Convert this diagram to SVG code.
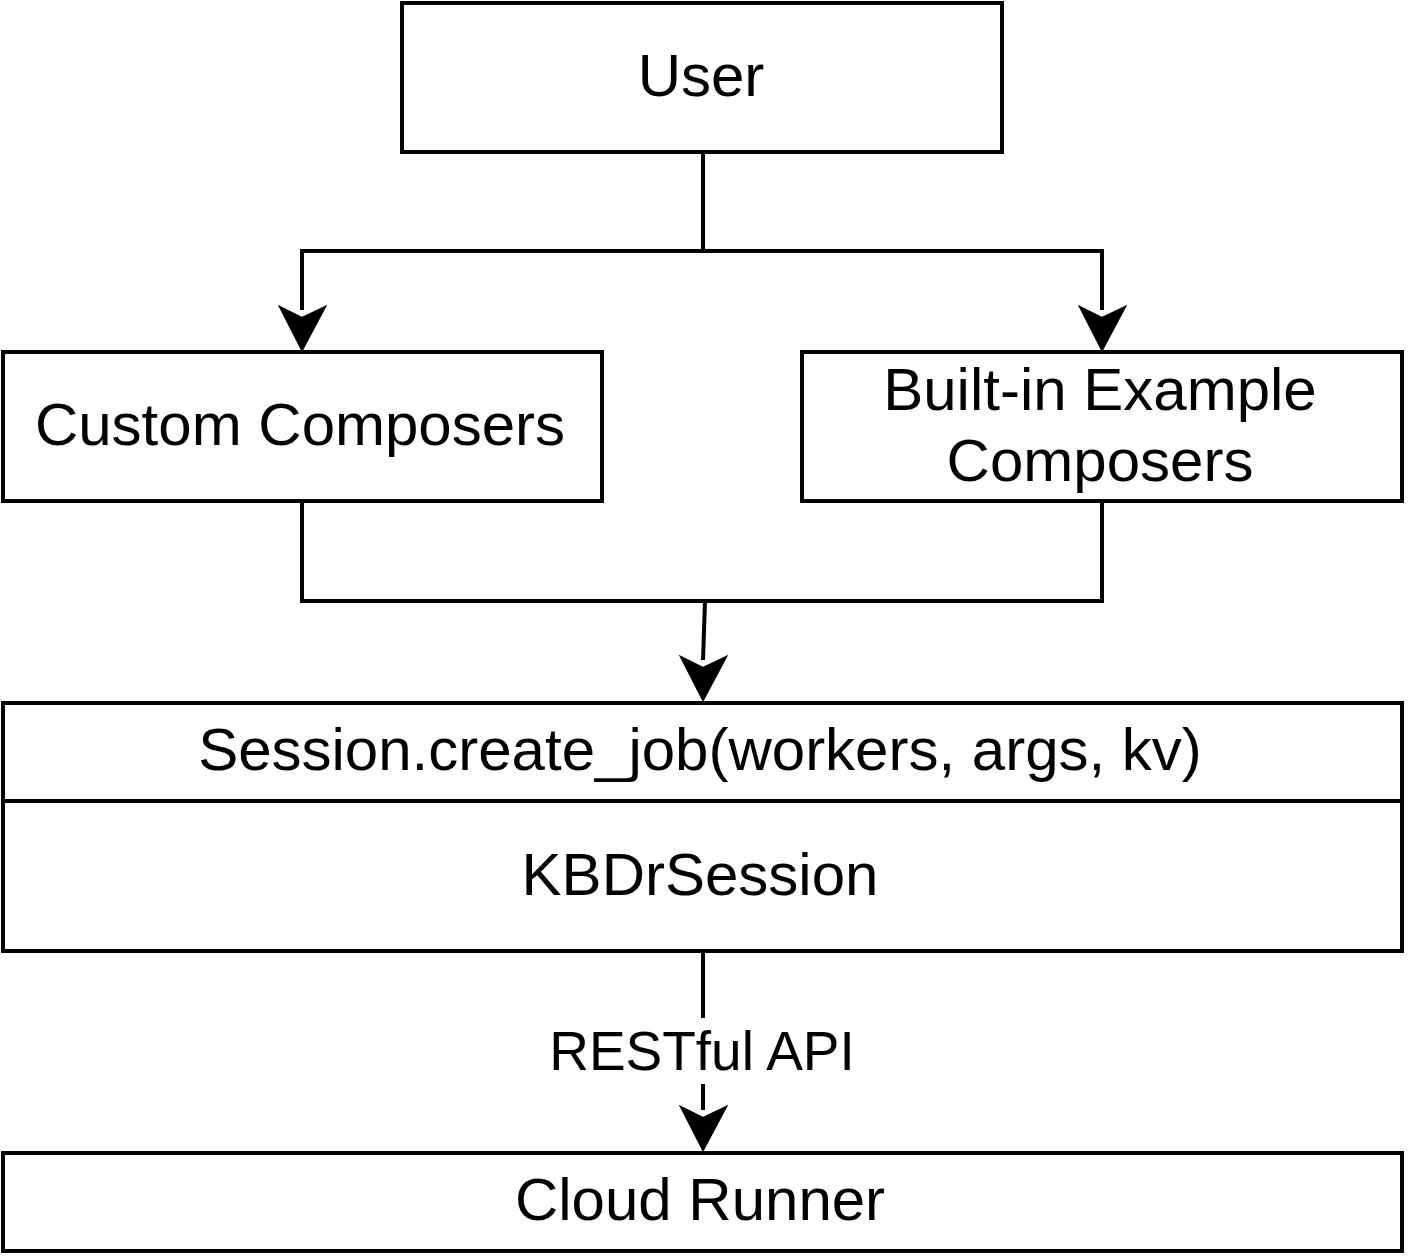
<svg xmlns="http://www.w3.org/2000/svg" width="1410" height="1260" viewBox="0 0 1410 1260">
<style>
.box{fill:#fff;stroke:#000;stroke-width:4}
.t{font-family:"Liberation Sans",Arial,sans-serif;font-size:60px;fill:#000;text-anchor:middle}
.lbl{font-family:"Liberation Sans",Arial,sans-serif;font-size:55px;fill:#000;text-anchor:middle}
.c{fill:none;stroke:#000;stroke-width:4}
.ah{fill:#000;stroke:#000;stroke-width:2}
</style>
<rect width="1410" height="1260" fill="#fff"/>
<g id="connectors">
<path class="c" d="M703 152 V251 H302 V310"/>
<path class="c" d="M703 251 H1102 V310"/>
<path class="ah" d="M302 350 L280 307 L302 318 L325 307 Z"/>
<path class="ah" d="M1102 350 L1080 307 L1102 318 L1125 307 Z"/>
<path class="c" d="M302 501 V601 H1102 V501"/>
<path class="c" d="M705 601 L703 660"/>
<path class="ah" d="M703 700 L681 657 L703 668 L726 657 Z"/>
<path class="c" d="M703 951 V1110"/>
<path class="ah" d="M703 1150 L681 1107 L703 1118 L726 1107 Z"/>
<rect x="548" y="1018" width="308" height="66" fill="#fff"/>
<text class="lbl" x="702" y="1070">RESTful API</text>
</g>
<g id="user">
<rect class="box" x="402" y="3" width="600" height="149"/>
<text class="t" x="701" y="96">User</text>
</g>
<g id="custom">
<rect class="box" x="3" y="352" width="599" height="149"/>
<text class="t" x="300" y="445">Custom Composers</text>
</g>
<g id="builtin">
<rect class="box" x="802" y="352" width="600" height="149"/>
<text class="t" x="1100" y="410">Built-in Example</text>
<text class="t" x="1100" y="481">Composers</text>
</g>
<g id="session">
<rect class="box" x="3" y="703" width="1399" height="248"/>
<line class="c" x1="3" y1="801" x2="1402" y2="801"/>
<text class="t" x="700" y="770">Session.create_job(workers, args, kv)</text>
<text class="t" x="700" y="895">KBDrSession</text>
</g>
<g id="cloud">
<rect class="box" x="3" y="1153" width="1399" height="98"/>
<text class="t" x="700" y="1220">Cloud Runner</text>
</g>
</svg>
